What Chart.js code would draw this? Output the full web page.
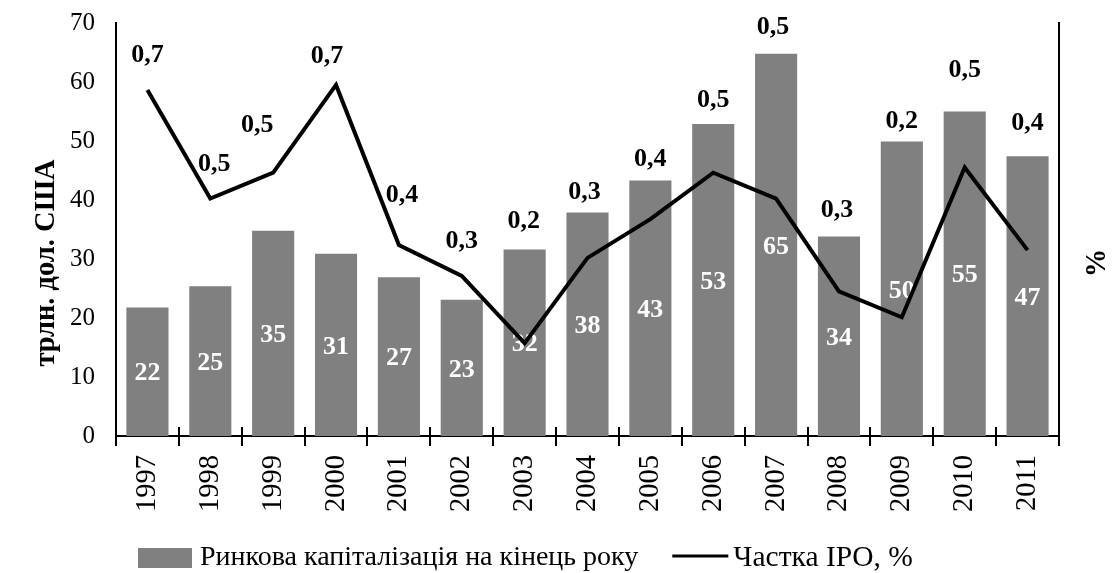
<!DOCTYPE html>
<html>
<head>
<meta charset="utf-8">
<script src="https://cdn.jsdelivr.net/npm/chart.js@4.4.0/dist/chart.umd.min.js"></script>
<style>
  html, body { margin: 0; padding: 0; background: #fff; }
</style>
</head>
<body>
<canvas id="ipoChart" width="1116" height="573"></canvas>
<script>
// values
var years = ['1997', '1998', '1999', '2000', '2001', '2002', '2003', '2004',
             '2005', '2006', '2007', '2008', '2009', '2010', '2011'];
var marketCap = [21.8, 25.4, 34.8, 30.9, 26.9, 23.1, 31.6, 37.9, 43.3, 52.9, 64.8, 33.8, 49.9, 55.0, 47.4];
var ipoShare = [0.67, 0.46, 0.51, 0.68, 0.37, 0.31, 0.18, 0.345, 0.42, 0.51, 0.46, 0.28, 0.23, 0.52, 0.36];

var capName = 'Ринкова капіталізація на кінець року';
var ipoName = 'Частка IPO, %';
var leftTitle = 'трлн. дол. США';
var rightTitle = '%';

// styling
var serif = "'Liberation Serif', 'Times New Roman', serif";
var barColor = '#808080';
// how far each IPO label sits above the higher of bar top / line point (px), and sideways nudge
var ipoLabelLift = [35, 34, 47, 29, 50, 35, 28, 20, 21, 24, 26, 26, 20, 41, 33];
var ipoLabelShift = [0, 4, -16, -9, 3, 0, -1, -3, 0, 0, -3, -2, 0, 0, 0];

function fmtShare(v) {
  return (Math.round(v * 10) / 10).toFixed(1).replace('.', ',');
}

var extrasPlugin = {
  id: 'extras',
  afterDatasetDraw: function (chart, args) {
    // white value labels inside the bars, before the line goes on top
    if (args.index !== 0) return;
    var ctx = chart.ctx;
    ctx.save();
    ctx.font = 'bold 26px ' + serif;
    ctx.fillStyle = '#fff';
    ctx.textAlign = 'center';
    ctx.textBaseline = 'middle';
    args.meta.data.forEach(function (bar, i) {
      ctx.fillText(String(Math.round(marketCap[i])), bar.x, (bar.y + bar.base) / 2 + 2);
    });
    ctx.restore();
  },
  afterDraw: function (chart) {
    var ctx = chart.ctx;
    var area = chart.chartArea;
    var xs = chart.scales.x;
    var bars = chart.getDatasetMeta(0).data;
    var pts = chart.getDatasetMeta(1).data;

    ctx.save();
    // IPO share labels
    ctx.font = 'bold 26px ' + serif;
    ctx.fillStyle = '#000';
    ctx.textAlign = 'center';
    ctx.textBaseline = 'middle';
    pts.forEach(function (pt, i) {
      var top = Math.min(pt.y, bars[i].y);
      ctx.fillText(fmtShare(ipoShare[i]), pt.x + ipoLabelShift[i], top - ipoLabelLift[i]);
    });

    // category tick marks crossing the x axis
    ctx.strokeStyle = '#000';
    ctx.lineWidth = 2;
    var step = xs.width / years.length;
    for (var i = 0; i <= years.length; i++) {
      var tx = Math.round(xs.left + i * step);
      ctx.beginPath();
      ctx.moveTo(tx, area.bottom - 9);
      ctx.lineTo(tx, area.bottom + 10);
      ctx.stroke();
    }

    // axis titles
    var midY = 263;
    ctx.font = 'bold 28.5px ' + serif;
    ctx.translate(47, midY);
    ctx.rotate(-Math.PI / 2);
    ctx.fillText(leftTitle, 0, 0);
    ctx.setTransform(1, 0, 0, 1, 0, 0);
    ctx.translate(1098, midY);
    ctx.rotate(-Math.PI / 2);
    ctx.fillText(rightTitle, 0, 0);
    ctx.setTransform(1, 0, 0, 1, 0, 0);

    // legend
    var ly = 558;
    var lx = 138;
    ctx.font = '28px ' + serif;
    ctx.textAlign = 'left';
    ctx.fillStyle = barColor;
    ctx.fillRect(lx, ly - 10, 54, 20);
    lx += 54 + 8;
    ctx.fillStyle = '#000';
    ctx.fillText(capName, lx, ly);
    lx += ctx.measureText(capName).width + 34;
    ctx.lineWidth = 3;
    ctx.beginPath();
    ctx.moveTo(lx, ly - 2);
    ctx.lineTo(lx + 56, ly - 2);
    ctx.stroke();
    lx += 56 + 5;
    ctx.font = '29.5px ' + serif;
    ctx.fillText(ipoName, lx, ly);
    ctx.restore();
  }
};

var ctx = document.getElementById('ipoChart').getContext('2d');

var ipoChart = new Chart(ctx, {
  type: 'bar',
  data: {
    labels: years,
    datasets: [{
      label: capName,
      data: marketCap,
      backgroundColor: barColor,
      borderWidth: 0,
      barPercentage: 0.67,
      categoryPercentage: 1,
      yAxisID: 'y',
      order: 2
    }, {
      type: 'line',
      label: ipoName,
      data: ipoShare,
      borderColor: '#000',
      borderWidth: 4,
      pointRadius: 0,
      tension: 0,
      fill: false,
      yAxisID: 'y1',
      order: 1
    }]
  },
  options: {
    responsive: false,
    animation: false,
    layout: { padding: { top: 23, bottom: 37, left: 0, right: 0 } },
    plugins: {
      legend: { display: false },
      tooltip: { enabled: false }
    },
    scales: {
      x: {
        grid: { display: false, drawTicks: false },
        border: { display: true, color: '#000', width: 2 },
        ticks: {
          color: '#000',
          font: { family: serif, size: 28.5 },
          minRotation: 90,
          maxRotation: 90,
          padding: 19
        },
        afterFit: function (scale) { scale.height = 100; }
      },
      y: {
        position: 'left',
        min: 0,
        max: 70,
        grid: { display: false, drawTicks: false },
        border: { display: true, color: '#000', width: 2 },
        ticks: {
          stepSize: 10,
          color: '#000',
          font: { family: serif, size: 25 },
          padding: 21
        },
        afterFit: function (scale) {
          scale.width = 116;
          scale.paddingTop = 10;
          scale.paddingBottom = 10;
        }
      },
      y1: {
        position: 'right',
        min: 0,
        max: 0.8,
        grid: { display: false, drawTicks: false },
        border: { display: true, color: '#000', width: 2 },
        ticks: { display: false },
        afterFit: function (scale) { scale.width = 57; }
      }
    }
  },
  plugins: [extrasPlugin]
});
</script>
</body>
</html>
